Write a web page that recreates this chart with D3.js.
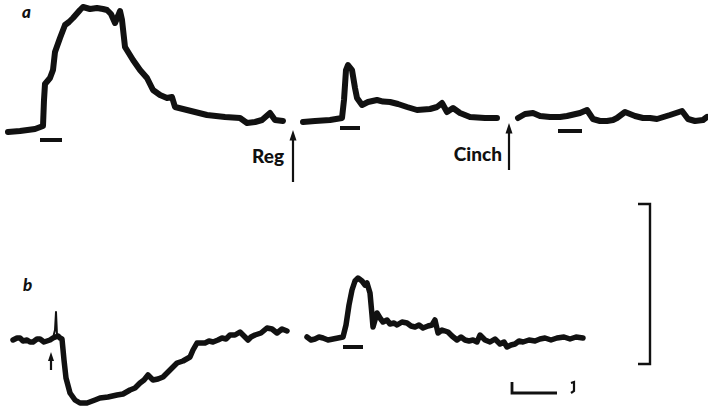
<!DOCTYPE html>
<html>
<head>
<meta charset="utf-8">
<script src="https://cdn.jsdelivr.net/npm/d3@7"></script>
<style>
  body { margin: 0; background: #fff; }
  .trace { fill: none; stroke: #111; stroke-linejoin: round; stroke-linecap: round; }
  .lbl { font-family: Lato, "Open Sans", sans-serif; font-weight: 900; fill: #111; }
</style>
</head>
<body>
<div id="chart"></div>
<script>
// Traces: [time unit, response unit]; each trace starts at t = 0
var traceA1 = [[0,-1],[2.4,-0.5],[5.4,0.5],[7,2],[7.2,15],[7.4,23],[8.4,26],[9,30],[9.4,39],[10.4,46],
  [11.4,52.5],[12.2,54],[13,56],[14.4,60],[15,61.5],[16.4,60.5],[17.8,61],[19,60.5],[19.8,60],[20.6,58],
  [21.4,53.5],[22,57],[22.4,59.5],[22.8,55],[23.4,41.5],[25,35],[26.4,30],[27.8,26],[29,20],[30.4,17.5],
  [31.8,16],[32.8,16.5],[33.4,11.5],[35.8,10],[39.8,7.5],[43.4,6.5],[46.4,6],[47.8,3.5],[49.4,4],
  [50.8,5],[52.4,8.5],[53.4,5],[55,4.5]];
var traceA2 = [[0,4],[2.4,4.5],[5.4,5],[7.8,6],[8.2,15],[8.6,30],[9,32.5],[9.8,30],[10.4,21],[10.8,16],
  [11.8,12.5],[13,14],[14.8,15],[16,14.2],[17.4,14],[19,13],[20.8,11.5],[22.8,10],[25.4,10.5],[26.8,11.5],
  [27.8,13.5],[28.8,9],[30,11],[31.4,8.5],[33.4,6.5],[36.4,6],[38.8,6]];
var traceA3 = [[0,6],[1.4,8],[3,8.5],[4.4,7],[6.4,6.5],[8.4,6.5],[9.8,7],[12.4,8.5],[13.8,10],[15,5.5],
  [16.4,4.5],[17.8,4.5],[19,5],[19.8,6],[21.4,9],[23.4,7],[25,6],[26.4,6],[27.8,5.5],[30.4,7.5],
  [32.8,9.5],[34,5.5],[35.4,4.5],[37,5],[37.8,6.5]];
var traceB1 = [[0,0],[0.8,1],[1.4,1],[2,-0.5],[2.8,0],[3.4,-1],[4,-1],[4.8,0.5],[5.4,0.5],[6.2,-1],
  [6.8,-0.5],[7.4,0],[8,1],[9,2],[9.4,1],[9.8,0.5],
  [10.2,-10],[10.6,-19],[11.4,-26.5],[12.4,-30],[13.4,-31.5],[14.8,-31.5],[16.4,-30],[17.4,-29],
  [19,-28.5],[20.8,-27.5],[22,-27],[23.4,-25],[24.4,-24],[25.4,-21.5],[26.2,-20],[27,-17.5],[28,-20],
  [29,-19.5],[30,-18.5],[31.4,-15],[32.8,-11.5],[34,-10.5],[35.4,-8.5],[36,-5],
  [36.8,-1.5],[38.4,-1.5],[39.2,-0.5],[40,-1],[41,0],[41.8,1],[42.6,0.5],[43.4,2.5],[44.4,2.5],[45.4,4],
  [46.2,2],[47,0],[47.6,1.5],[48.4,2.5],[49.6,3.5],[50.8,6],[51.8,5.5],
  [52.8,3.5],[53.8,5.5],[54.8,4.5]];
var spikeB1 = [[8,1],[8.4,5],[8.6,14],[8.8,2.5],[9,2]];
var traceB2 = [[0,1.5],[0.8,0],[1.6,0.5],[2.4,1.5],[3.2,1],[4.2,0],[5.2,0.5],[6.2,1],[7.2,1.5],[7.8,7.5],
  [8.4,17.5],[9,25],[9.6,29.5],
  [10.2,31],[11,29.5],[11.6,27.5],[12,28.5],[12.6,23.5],[13,12.5],[13.2,6.5],[14,13.5],[14.6,11],
  [15.2,9],[16,10],[16.6,8],[17.4,8.5],[18,7.5],[19,9],[20,8.5],[20.8,7],[21.6,6.5],[22.4,7.5],[23.2,6],
  [24.2,7],[25,7.5],[25.6,10],[26.2,3.5],[27,5],[28.2,4],[29,2],[30,0],
  [30.8,1.5],[31.6,0],[32.4,-0.5],[33.2,0],[34,-1],[34.6,2.5],[35.6,0],[36.6,-1],[37.6,0.5],[38.6,-2],
  [39.4,-1],[40,-3.5],[40.8,-2.5],[41.6,-2],[42.4,-0.5],[43.2,-1],[44.4,0],[45.6,-0.5],
  [46.6,0.5],[47.6,1],[48.8,0],[50,1],[51.4,1.5],[52.6,0.5],[53.8,1.5],[55.2,1]];

// Stimulus bars: [start, end, level]
var stimA1 = [6.4, 10.8, -5];
var stimA2 = [7.4, 11.4, 1];
var stimA3 = [8, 12.8, -0.5];
var stimB2 = [7.2, 11.2, -3.5];

// Scale bars
var timeBar = 9;        // time units
var ampBar = [-12, 68]; // response units

var width = 708, height = 408;
var pxPerT = 5;

var svg = d3.select('#chart').append('svg')
    .attr('width', width)
    .attr('height', height);

var yA = d3.scaleLinear().domain([0, 65]).range([130, 0]);
var yB = d3.scaleLinear().domain([-35, 35]).range([410, 270]);

function xScale(x0) {
    return d3.scaleLinear().domain([0, 1]).range([x0, x0 + pxPerT]);
}

function drawTrace(data, x, y, w) {
    var line = d3.line().x(d => x(d[0])).y(d => y(d[1]));
    svg.append('path')
        .datum(data)
        .attr('class', 'trace')
        .attr('stroke-width', w)
        .attr('d', line);
}

function drawStim(s, x, y) {
    svg.append('line')
        .attr('x1', x(s[0])).attr('x2', x(s[1]))
        .attr('y1', y(s[2])).attr('y2', y(s[2]))
        .attr('stroke', '#111')
        .attr('stroke-width', 4);
}

function drawArrow(xp, yTop, yBot, head) {
    svg.append('line')
        .attr('x1', xp).attr('x2', xp)
        .attr('y1', yTop + head).attr('y2', yBot)
        .attr('stroke', '#111').attr('stroke-width', 2.2);
    svg.append('path')
        .attr('d', `M${xp},${yTop} L${xp - head * 0.5},${yTop + head * 1.5} L${xp + head * 0.5},${yTop + head * 1.5} Z`)
        .attr('fill', '#111');
}

var xA1 = xScale(8), xA2 = xScale(303), xA3 = xScale(518);
var xB1 = xScale(13), xB2 = xScale(307);

drawTrace(traceA1, xA1, yA, 6);
drawTrace(traceA2, xA2, yA, 6);
drawTrace(traceA3, xA3, yA, 6);
drawTrace(traceB1, xB1, yB, 5.5);
drawTrace(spikeB1, xB1, yB, 2);
drawTrace(traceB2, xB2, yB, 5.5);

drawStim(stimA1, xA1, yA);
drawStim(stimA2, xA2, yA);
drawStim(stimA3, xA3, yA);
drawStim(stimB2, xB2, yB);

// drug arrows
drawArrow(293, yA(0), yA(-26), 7);
drawArrow(509, yA(3.5), yA(-20), 7);
drawArrow(xB1(7.6), yB(-6), yB(-15), 6);

svg.append('text').attr('class', 'lbl')
    .attr('x', 284).attr('y', 163)
    .attr('text-anchor', 'end')
    .style('font-size', '19px')
    .text('Reg');
svg.append('text').attr('class', 'lbl')
    .attr('x', 502).attr('y', 161)
    .attr('text-anchor', 'end')
    .style('font-size', '19px')
    .text('Cinch');

// panel letters
svg.append('text').attr('class', 'lbl')
    .attr('x', 22).attr('y', 18)
    .style('font-size', '17px').style('font-style', 'italic')
    .text('a');
svg.append('text').attr('class', 'lbl')
    .attr('x', 23).attr('y', 291)
    .style('font-size', '17px').style('font-style', 'italic')
    .text('b');

// amplitude bracket
var bx = 650;
svg.append('path')
    .attr('d', `M${bx - 12},${yB(ampBar[1])} H${bx} V${yB(ampBar[0])} H${bx - 12}`)
    .attr('fill', 'none').attr('stroke', '#111').attr('stroke-width', 2.4);

// time bar
var tx = xScale(512);
svg.append('path')
    .attr('d', `M${tx(0)},382 V${393} H${tx(timeBar)}`)
    .attr('fill', 'none').attr('stroke', '#111').attr('stroke-width', 2.8);
svg.append('path')
    .attr('d', 'M571,383 L574,382 L574,391 L571,393')
    .attr('fill', 'none').attr('stroke', '#111').attr('stroke-width', 2.2);
</script>
</body>
</html>
